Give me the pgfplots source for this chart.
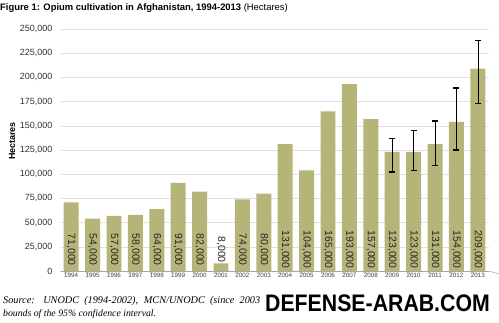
\documentclass[border=0pt]{standalone}
\usepackage{pgfplots}
\usepackage{pgfplotstable}
\pgfplotsset{compat=1.18}
\usepackage{fontspec}
\setmainfont{Liberation Sans}
\newfontfamily\serifit{Liberation Serif}
\definecolor{barcol}{RGB}{181,181,121}

\pgfplotstableread{
x year y
0 1994 71000
1 1995 54000
2 1996 57000
3 1997 58000
4 1998 64000
5 1999 91000
6 2000 82000
7 2001 8000
8 2002 74000
9 2003 80000
10 2004 131000
11 2005 104000
12 2006 165000
13 2007 193000
14 2008 157000
15 2009 123000
16 2010 123000
17 2011 131000
18 2012 154000
19 2013 209000
}\opium

\pgfplotstableread{
x y ep em
15 123000 14000 21000
16 123000 22000 19000
17 131000 24000 22000
18 154000 35000 29000
19 209000 29000 36000
}\ci

\begin{document}
\begin{tikzpicture}[x=1bp,y=1bp]
\path[use as bounding box] (0,0) rectangle (499,322);
\begin{axis}[
  at={(60.5bp,51bp)}, anchor=south west,
  scale only axis,
  width=428bp, height=242bp,
  xmin=-0.5, xmax=19.5,
  ymin=0, ymax=250000,
  axis line style={draw=none},
  tick style={draw=none},
  xtick pos=bottom, ytick pos=left,
  ytick={0,25000,...,250000},
  xtick={0,...,19},
  xticklabels={1994,1995,1996,1997,1998,1999,2000,2001,2002,2003,2004,2005,2006,2007,2008,2009,2010,2011,2012,2013},
  x tick label style={font=\fontsize{6.3}{7}\selectfont, text=black!75, yshift=1bp},
  y tick label style={font=\fontsize{9}{10}\selectfont, text=black!80, anchor=east, inner sep=0pt, xshift=-8bp},
  /pgf/number format/.cd, fixed, 1000 sep={,}, assume math mode=true,
  /pgfplots/.cd,
  scaled y ticks=false,
  ymajorgrids, grid style={black!12, line width=0.5pt},
  major tick length=0pt,
  clip=false,
]
\draw[black!35, line width=0.5pt] (axis cs:-0.5,0) -- (axis cs:19.5,0);
\pgfplotsinvokeforeach{-0.5,0.5,...,19.5}{
  \draw[black!35, line width=0.5pt] (axis cs:#1,0) -- ++(0,-3bp);
}
\addplot[ybar, bar width=0.7, fill=barcol, draw=none] table[x=x,y=y] {\opium};
\addplot[draw=none, forget plot,
  error bars/.cd, y dir=both, y explicit,
  error bar style={draw=black, line width=0.5pt},
  error mark options={draw=black, rotate=90, mark size=3bp, line width=1.6pt}]
  table[x=x, y=y, y error plus=ep, y error minus=em] {\ci};
\addplot[draw=none, mark=none, forget plot,
  point meta=explicit,
  nodes near coords={\pgfmathprintnumber[fixed,1000 sep={,},assume math mode=true]{\pgfplotspointmeta}},
  every node near coord/.append style={rotate=-90, anchor=center, font=\fontsize{10.5}{11}\selectfont, text=black!85}]
  table[x=x, y expr=22000, meta=y] {\opium};
\end{axis}
\node[anchor=base west, inner sep=0] at (0,311.5) {\fontsize{9.45}{10}\selectfont\textbf{Figure 1: Opium cultivation in Afghanistan, 1994-2013} (Hectares)};
\node[rotate=90, anchor=center, inner sep=0, font=\fontsize{9}{10}\selectfont\bfseries] at (12,181) {Hectares};
\node[anchor=base west, inner sep=0] at (3,19) {\serifit\itshape\fontsize{10.3}{11}\selectfont\makebox[257bp][s]{Source: UNODC (1994-2002), MCN/UNODC (since 2003}};
\node[anchor=base west, inner sep=0] at (3,5.5) {\serifit\itshape\fontsize{9.8}{11}\selectfont bounds of the 95\% confidence interval.};
\node[anchor=base west, inner sep=0, xscale=0.89] at (265,11) {\fontsize{24}{26}\selectfont\bfseries DEFENSE-ARAB.COM};
\end{tikzpicture}
\end{document}
